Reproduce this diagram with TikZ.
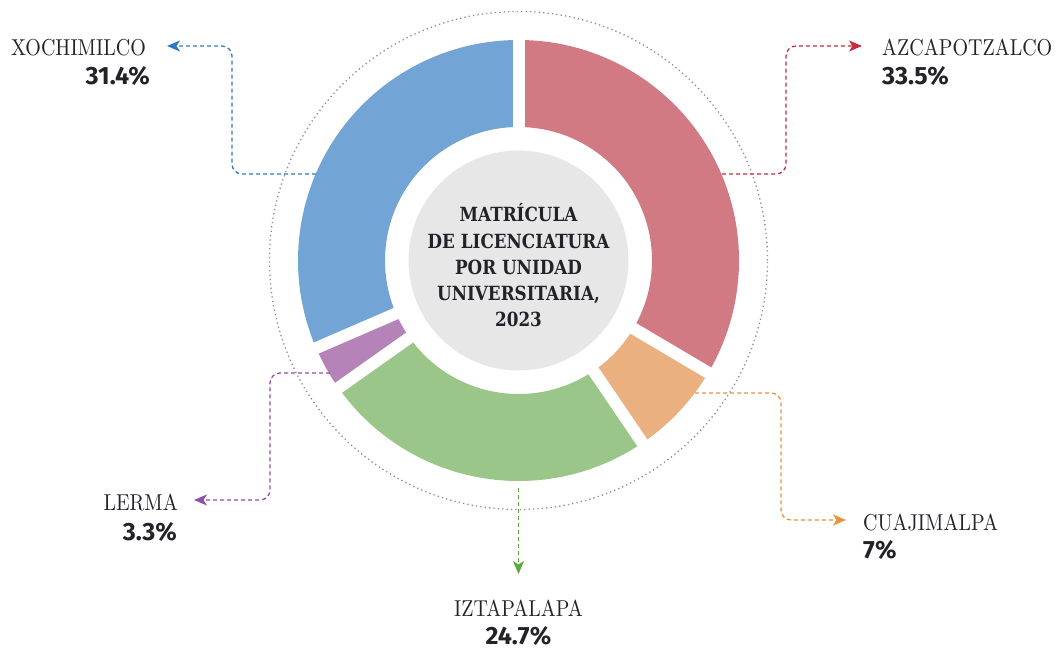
\documentclass[tikz,border=0pt]{standalone}
\usepackage{fontspec}
\usetikzlibrary{arrows.meta}
\newfontfamily\lblfont{lmroman10-regular.otf}[FakeStretch=0.87]
\newfontfamily\pctfont{Fira Sans}
\newfontfamily\ctrfont{DejaVu Serif}[FakeStretch=0.86]
\definecolor{cblue}{HTML}{72A4D6}
\definecolor{cred}{HTML}{D27A83}
\definecolor{corange}{HTML}{EAB07F}
\definecolor{cgreen}{HTML}{9AC68A}
\definecolor{cpurple}{HTML}{B583B8}
\definecolor{cgrey}{HTML}{E6E7E6}
\definecolor{lblue}{HTML}{2F78C4}
\definecolor{lred}{HTML}{C62A3C}
\definecolor{lorange}{HTML}{E8913E}
\definecolor{lgreen}{HTML}{5DA83A}
\definecolor{lpurple}{HTML}{8E4FA8}
\definecolor{txt}{HTML}{222228}
\definecolor{dotgrey}{HTML}{8E8E8E}
\newcommand\donutseg[3]{\fill[#3] (#1:220.5) arc[start angle=#1,end angle=#2,radius=220.5] -- (#2:133.5) arc[start angle=#2,end angle=#1,radius=133.5] -- cycle;}
\begin{document}
\begin{tikzpicture}[x=1pt,y=1pt,
  conn/.style={line width=1.3pt, dash pattern=on 4pt off 3pt, rounded corners=10pt, -{Stealth[length=13pt,width=11pt,inset=3.5pt]}},
  lbl/.style={inner sep=0pt, text=txt, font=\lblfont\fontsize{23}{27}\selectfont},
  pct/.style={inner sep=0pt, text=txt, font=\pctfont\bfseries\fontsize{25}{29}\selectfont},
  ctr/.style={inner sep=0pt, text=txt, anchor=base, font=\ctrfont\bfseries\fontsize{19.5}{26}\selectfont}]
\useasboundingbox (0,0) rectangle (1056,649);
\begin{scope}[shift={(518.5,388.5)}]
  \draw[dotgrey, line width=1.3pt, dash pattern=on 1.3pt off 3.1pt] (0,0) circle[radius=249];
  \donutseg{90}{-30.6}{cred}
  \donutseg{-30.6}{-55.8}{corange}
  \donutseg{-55.8}{-144.72}{cgreen}
  \donutseg{-144.72}{-156.6}{cpurple}
  \donutseg{-156.6}{-270}{cblue}
  \foreach \a in {90,-30.6,-55.8,-144.72,-156.6}
    \draw[white, line width=12pt] (0,0) -- (\a:223);
  \fill[cgrey] (0,0) circle[radius=110];
\end{scope}
\node[ctr] (t1) at (518.5,427.3) {MATRÍCULA};
\node[ctr] (t2) at (518.5,400.7) {DE LICENCIATURA};
\node[ctr] (t3) at (518.5,375) {POR UNIDAD};
\node[ctr] (t4) at (518.5,348.3) {UNIVERSITARIA,};
\node[ctr] (t5) at (518.5,322.3) {2023};
% connector points
\coordinate (xs) at (316,475);
\coordinate (xk) at (232,603);
\coordinate (xt) at (167,603);
\coordinate (as) at (722,475);
\coordinate (ak) at (786,603);
\coordinate (at) at (862,603);
\coordinate (cs) at (695,256);
\coordinate (ck) at (781,129);
\coordinate (ct) at (846,129);
\coordinate (ls) at (330,276);
\coordinate (lk) at (270,149);
\coordinate (lt) at (194,149);
\coordinate (is) at (518.5,161);
\coordinate (it) at (518.5,75);
\draw[conn, lblue] (xs) -| (xk) -- (xt);
\draw[conn, lred] (as) -| (ak) -- (at);
\draw[conn, lorange] (cs) -| (ck) -- (ct);
\draw[conn, lpurple] (ls) -| (lk) -- (lt);
\draw[conn, lgreen] (is) -- (it);
% labels
\node[lbl, anchor=base east] (xn) at (146,593) {XOCHIMILCO};
\node[pct, anchor=base east] (xp) at (150,564) {31.4\%};
\node[lbl, anchor=base west] (an) at (882,593) {AZCAPOTZALCO};
\node[pct, anchor=base west] (ap) at (882,564) {33.5\%};
\node[lbl, anchor=base west] (cn) at (863,119) {CUAJIMALPA};
\node[pct, anchor=base west] (cp) at (863,91) {7\%};
\node[lbl, anchor=base east] (ln) at (178,138.3) {LERMA};
\node[pct, anchor=base east] (lp) at (177,109) {3.3\%};
\node[lbl, anchor=base] (iname) at (518.5,32.3) {IZTAPALAPA};
\node[pct, anchor=base] (ip) at (518.5,5) {24.7\%};
\end{tikzpicture}
\end{document}
